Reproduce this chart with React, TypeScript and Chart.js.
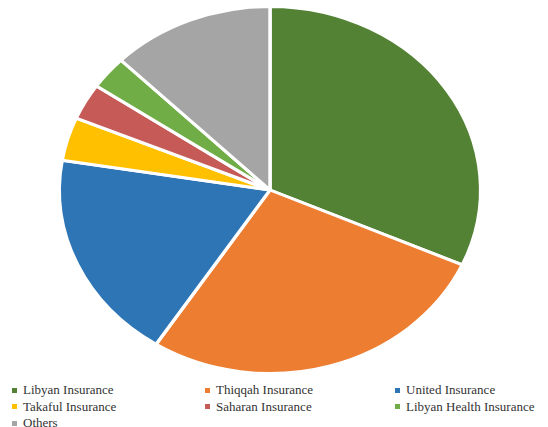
import React, { useEffect, useRef } from "react";
import { Chart, registerables } from "chart.js";

Chart.register(...registerables);

const categories = [
  "Libyan Insurance",
  "Thiqqah Insurance",
  "United Insurance",
  "Takaful Insurance",
  "Saharan Insurance",
  "Libyan Health Insurance",
  "Others",
];
const shares = [31.7, 27.4, 18.5, 3.8, 3.2, 2.9, 12.5];
const colors = ["#548235", "#ED7D31", "#2E75B6", "#FFC000", "#C55A57", "#70AD47", "#A5A5A5"];

const X_STRETCH = 1.148;

const stretchPlugin = {
  id: "stretch",
  beforeDatasetsDraw(chart: any) {
    const meta = chart.getDatasetMeta(0);
    const arc = meta.data[0];
    if (!arc) return;
    const ctx = chart.ctx;
    ctx.save();
    ctx.translate(arc.x, arc.y);
    ctx.scale(X_STRETCH, 1);
    ctx.translate(-arc.x, -arc.y);
  },
  afterDatasetsDraw(chart: any) {
    chart.ctx.restore();
  },
};

export default function App() {
  const ref = useRef<HTMLCanvasElement | null>(null);
  useEffect(() => {
    if (!ref.current) return;
    const chart = new Chart(ref.current, {
      type: "pie",
      data: {
        labels: categories,
        datasets: [
          {
            data: shares,
            backgroundColor: colors,
            borderColor: "#ffffff",
            borderWidth: 3,
          },
        ],
      },
      options: {
        animation: false,
        responsive: false,
        maintainAspectRatio: false,
        layout: { padding: { top: 5, bottom: 5, left: 0, right: 8 } },
        plugins: { legend: { display: false }, tooltip: { enabled: false } },
      },
      plugins: [stretchPlugin],
    });
    return () => chart.destroy();
  }, []);

  const legendCols = [12, 205, 395];
  return (
    <div
      style={{
        position: "absolute",
        left: 0,
        top: 0,
        width: 548,
        height: 427,
        overflow: "hidden",
        background: "#fff",
      }}
    >
      <canvas ref={ref} width={548} height={380} style={{ position: "absolute", left: 0, top: 0 }} />
      {categories.map((c, i) => {
        const row = Math.floor(i / 3);
        const col = i % 3;
        return (
          <div
            key={c}
            style={{
              position: "absolute",
              left: legendCols[col],
              top: 382 + row * 16.5,
              height: 16,
              display: "flex",
              alignItems: "center",
              fontFamily: "'Times New Roman', 'Liberation Serif', 'DejaVu Serif', Times, serif",
              fontSize: 13,
              color: "#333",
              whiteSpace: "nowrap",
            }}
          >
            <span
              style={{
                display: "inline-block",
                width: 5,
                height: 5,
                background: colors[i],
                marginRight: 6,
              }}
            />
            {c}
          </div>
        );
      })}
    </div>
  );
}
